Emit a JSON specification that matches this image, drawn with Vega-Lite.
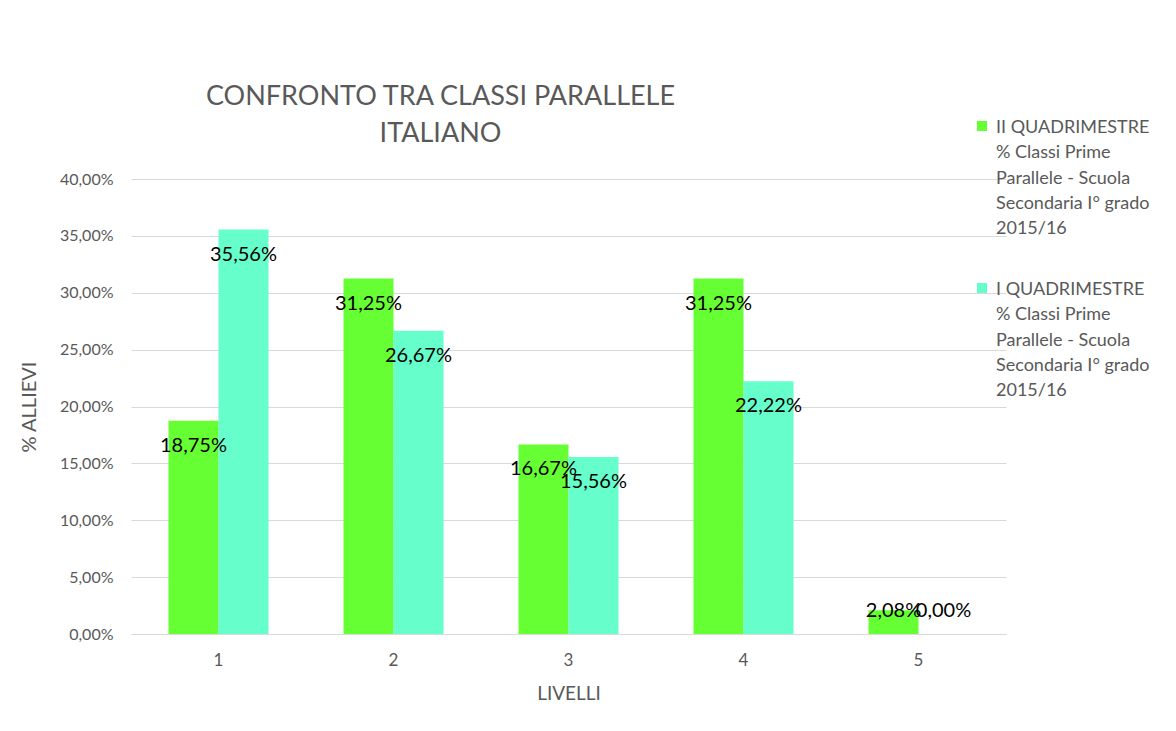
{
  "$schema": "https://vega.github.io/schema/vega-lite/v6.json",
  "width": 875,
  "height": 455,
  "autosize": {"type": "none"},
  "padding": {"left": 131, "top": 179, "right": 170, "bottom": 97},
  "background": "white",
  "config": {
    "font": "Lato",
    "view": {"stroke": null}
  },
  "title": {
    "text": ["CONFRONTO TRA CLASSI PARALLELE", "ITALIANO"],
    "anchor": "middle",
    "dx": -128,
    "offset": -31,
    "font": "Lato",
    "fontSize": 27,
    "fontWeight": "normal",
    "color": "#595959",
    "lineHeight": 37
  },
  "data": {
    "values": [
      {"livello": "1", "serie": "II QUADRIMESTRE % Classi Prime Parallele - Scuola Secondaria I° grado 2015/16", "ord": 1, "pct": 18.75},
      {"livello": "1", "serie": "I QUADRIMESTRE % Classi Prime Parallele - Scuola Secondaria I° grado 2015/16", "ord": 2, "pct": 35.56},
      {"livello": "2", "serie": "II QUADRIMESTRE % Classi Prime Parallele - Scuola Secondaria I° grado 2015/16", "ord": 1, "pct": 31.25},
      {"livello": "2", "serie": "I QUADRIMESTRE % Classi Prime Parallele - Scuola Secondaria I° grado 2015/16", "ord": 2, "pct": 26.67},
      {"livello": "3", "serie": "II QUADRIMESTRE % Classi Prime Parallele - Scuola Secondaria I° grado 2015/16", "ord": 1, "pct": 16.67},
      {"livello": "3", "serie": "I QUADRIMESTRE % Classi Prime Parallele - Scuola Secondaria I° grado 2015/16", "ord": 2, "pct": 15.56},
      {"livello": "4", "serie": "II QUADRIMESTRE % Classi Prime Parallele - Scuola Secondaria I° grado 2015/16", "ord": 1, "pct": 31.25},
      {"livello": "4", "serie": "I QUADRIMESTRE % Classi Prime Parallele - Scuola Secondaria I° grado 2015/16", "ord": 2, "pct": 22.22},
      {"livello": "5", "serie": "II QUADRIMESTRE % Classi Prime Parallele - Scuola Secondaria I° grado 2015/16", "ord": 1, "pct": 2.08},
      {"livello": "5", "serie": "I QUADRIMESTRE % Classi Prime Parallele - Scuola Secondaria I° grado 2015/16", "ord": 2, "pct": 0.0}
    ]
  },
  "encoding": {
    "x": {
      "field": "livello",
      "type": "nominal",
      "scale": {"paddingInner": 0.4286, "paddingOuter": 0.2143},
      "axis": {
        "title": "LIVELLI",
        "titleFont": "Lato",
        "titleFontSize": 19,
        "titleFontWeight": "normal",
        "titleColor": "#595959",
        "titlePadding": 16,
        "labelAngle": 0,
        "labelFont": "Lato",
        "labelFontSize": 17,
        "labelColor": "#595959",
        "labelPadding": 18,
        "ticks": false,
        "domainColor": "#d9d9d9",
        "grid": false
      }
    },
    "xOffset": {"field": "ord", "type": "ordinal"}
  },
  "layer": [
    {
      "mark": {"type": "bar"},
      "encoding": {
        "y": {
          "field": "pct",
          "type": "quantitative",
          "scale": {"domain": [0, 40]},
          "axis": {
            "title": "% ALLIEVI",
            "titleFont": "Lato",
            "titleFontSize": 20,
            "titleFontWeight": "normal",
            "titleColor": "#595959",
            "titlePadding": 20,
            "values": [0, 5, 10, 15, 20, 25, 30, 35, 40],
            "labelExpr": "replace(format(datum.value, '.2f'), '.', ',') + '%'",
            "labelFont": "Lato",
            "labelFontSize": 16,
            "labelColor": "#595959",
            "labelPadding": 18,
            "ticks": false,
            "domain": false,
            "gridColor": "#d9d9d9"
          }
        },
        "color": {
          "field": "serie",
          "type": "nominal",
          "sort": ["II QUADRIMESTRE % Classi Prime Parallele - Scuola Secondaria I° grado 2015/16", "I QUADRIMESTRE % Classi Prime Parallele - Scuola Secondaria I° grado 2015/16"],
          "scale": {"range": ["#66ff33", "#66ffcc"]},
          "legend": {
            "title": null,
            "orient": "none",
            "legendX": 842,
            "legendY": -62,
            "symbolType": "square",
            "symbolSize": 100,
            "symbolStrokeWidth": 0,
            "labelFont": "Lato",
            "labelFontSize": 18,
            "labelColor": "#595959",
            "labelLimit": 300,
            "labelOffset": 5,
            "labelBaseline": "top",
            "labelExpr": "split(replace(replace(replace(replace(datum.label, 'QUADRIMESTRE ', 'QUADRIMESTRE|'), 'Prime ', 'Prime|'), 'Scuola ', 'Scuola|'), 'grado ', 'grado|'), '|')",
            "rowPadding": 40,
            "encode": {
              "labels": {"update": {"lineHeight": {"value": 25.3}, "dy": {"value": -7}}}
            }
          }
        }
      }
    },
    {
      "transform": [
        {"calculate": "max(datum.pct - 2.2, 2.0)", "as": "labelPos"},
        {"calculate": "replace(format(datum.pct, '.2f'), '.', ',') + '%'", "as": "pctLabel"}
      ],
      "mark": {"type": "text", "font": "Lato", "fontSize": 20, "color": "#000000", "baseline": "middle"},
      "encoding": {
        "y": {"field": "labelPos", "type": "quantitative"},
        "text": {"field": "pctLabel", "type": "nominal"}
      }
    }
  ]
}
